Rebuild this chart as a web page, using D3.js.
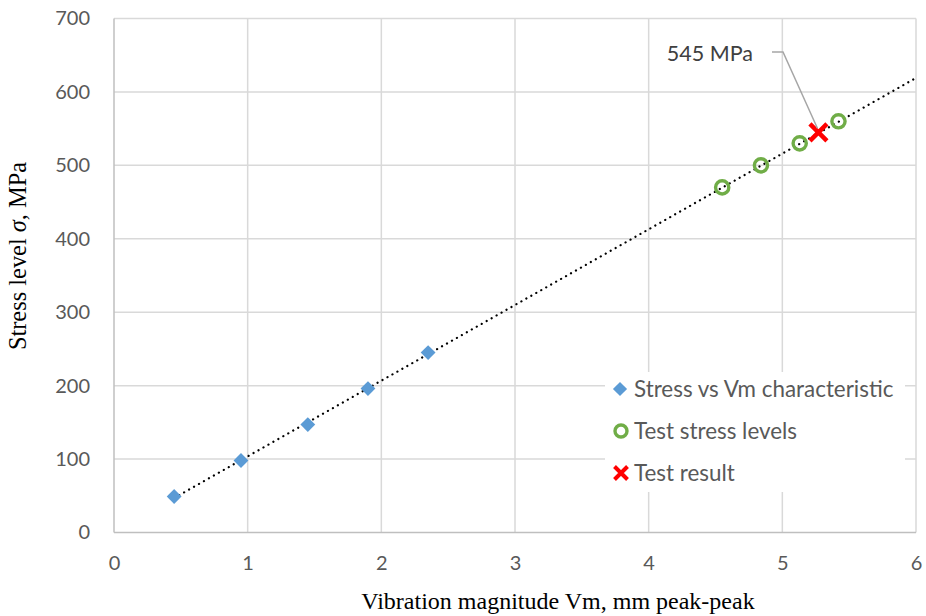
<!DOCTYPE html>
<html>
  <head>
    <meta charset="utf-8">
    <title>Stress level vs vibration magnitude</title>
    <style media="screen">
      body { margin: 0; background-color: #ffffff; }
      g.tick text { font: 20px Lato; fill: #595959; }
      text.legendLabel { font: 22.4px Lato; fill: #595959; }
      text.xTitle { font: 24px "Liberation Serif"; fill: #000; }
      text.yTitle { font: 24.4px "Liberation Serif"; fill: #000; }
      text.callout { font: 21.5px Lato; fill: #404040; }
      path.domain { display: none; }
    </style>
  </head>
  <body>
    <svg id="svg1" width="926" height="616"></svg>

    <script type="text/javascript" src="https://cdnjs.cloudflare.com/ajax/libs/d3/7.8.5/d3.min.js"></script>
    <script type="text/javascript">
      // Series
      var charVm = [0.45, 0.95, 1.45, 1.9, 2.35];
      var charStress = [49, 98, 147, 196, 245];
      var testVm = [4.55, 4.84, 5.13, 5.42];
      var testStress = [470, 500, 530, 560];
      var resultVm = [5.27];
      var resultStress = [545];
      var xTicks = [0, 1, 2, 3, 4, 5, 6];
      var yTicks = [0, 100, 200, 300, 400, 500, 600, 700];

      var svg = d3.select("#svg1");
      var margin = {top: 18.5, right: 10, bottom: 83.5, left: 114};
      var width = 916 - margin.left;
      var height = 532.5 - margin.top;
      var g = svg.append("g").attr("transform", "translate(" + margin.left + "," + margin.top + ")");

      var x = d3.scaleLinear().domain([0, 6]).range([0, width]);
      var y = d3.scaleLinear().domain([0, 700]).range([height, 0]);

      // Gridlines
      g.append("g").selectAll("line")
        .data(yTicks.slice(1))
        .enter().append("line")
        .attr("x1", 0).attr("x2", width)
        .attr("y1", function(d) { return y(d); })
        .attr("y2", function(d) { return y(d); })
        .attr("stroke", "#d9d9d9").attr("stroke-width", 1.5);

      g.append("g").selectAll("line")
        .data(xTicks.slice(1))
        .enter().append("line")
        .attr("y1", 0).attr("y2", height)
        .attr("x1", function(d) { return x(d); })
        .attr("x2", function(d) { return x(d); })
        .attr("stroke", "#d9d9d9").attr("stroke-width", 1.5);

      // Axis lines
      g.append("line").attr("x1", 0).attr("x2", width).attr("y1", height).attr("y2", height)
        .attr("stroke", "#bfbfbf").attr("stroke-width", 1.5);
      g.append("line").attr("x1", 0).attr("x2", 0).attr("y1", 0).attr("y2", height)
        .attr("stroke", "#bfbfbf").attr("stroke-width", 1.5);

      // Tick labels
      g.append("g")
        .attr("transform", "translate(0," + height + ")")
        .call(d3.axisBottom(x).tickValues(xTicks).tickSize(0).tickPadding(23).tickFormat(d3.format("d")));

      g.append("g")
        .call(d3.axisLeft(y).tickValues(yTicks).tickSize(0).tickPadding(24).tickFormat(d3.format("d")));

      // Linear trendline fitted to the characteristic points
      var n = charVm.length;
      var mx = d3.mean(charVm), my = d3.mean(charStress);
      var sxy = 0, sxx = 0;
      for (var i = 0; i < n; i++) {
        sxy += (charVm[i] - mx) * (charStress[i] - my);
        sxx += (charVm[i] - mx) * (charVm[i] - mx);
      }
      var slope = sxy / sxx;
      var icpt = my - slope * mx;
      var trendX = [charVm[0], 6];

      g.append("path")
        .datum(trendX)
        .attr("d", d3.line()
          .x(function(d) { return x(d); })
          .y(function(d) { return y(icpt + slope * d); }))
        .attr("fill", "none")
        .attr("stroke", "#000")
        .attr("stroke-width", 2.2)
        .attr("stroke-linecap", "round")
        .attr("stroke-dasharray", "0.1,5.6");

      // Diamonds
      var diamond = d3.symbol().type(d3.symbolSquare).size(110);
      g.selectAll("path.char")
        .data(charVm)
        .enter().append("path")
        .classed("char", true)
        .attr("d", diamond)
        .attr("transform", function(d, i) { return "translate(" + x(d) + "," + y(charStress[i]) + ") rotate(45)"; })
        .attr("fill", "#5b9bd5");

      // Test stress level circles
      g.selectAll("circle.test")
        .data(testVm)
        .enter().append("circle")
        .classed("test", true)
        .attr("cx", function(d) { return x(d); })
        .attr("cy", function(d, i) { return y(testStress[i]); })
        .attr("r", 6.6)
        .attr("fill", "none")
        .attr("stroke", "#70ad47")
        .attr("stroke-width", 3.4);

      // Test result cross
      function cross(sel, cx, cy, s, w) {
        sel.append("path")
          .attr("d", "M" + (cx - s) + "," + (cy - s) + "L" + (cx + s) + "," + (cy + s) +
                     "M" + (cx - s) + "," + (cy + s) + "L" + (cx + s) + "," + (cy - s))
          .attr("stroke", "#ff0000")
          .attr("stroke-width", w)
          .attr("fill", "none");
      }
      resultVm.forEach(function(d, i) {
        cross(g, x(d), y(resultStress[i]), 8.5, 4.5);
      });

      // Callout
      var rx = x(resultVm[0]), ry = y(resultStress[0]);
      g.append("path")
        .attr("d", "M" + (772 - margin.left) + "," + (52 - margin.top) + "H" + (783 - margin.left) + "L" + (rx - 1) + "," + (ry - 4))
        .attr("fill", "none")
        .attr("stroke", "#a6a6a6")
        .attr("stroke-width", 1.5);
      g.append("text")
        .classed("callout", true)
        .attr("x", 753 - margin.left)
        .attr("y", 53 - margin.top)
        .attr("dy", "0.35em")
        .attr("text-anchor", "end")
        .text(resultStress[0] + " MPa");

      // Legend
      var legend = svg.append("g").attr("transform", "translate(605,372)");
      legend.append("rect").attr("width", 300).attr("height", 120).attr("fill", "#fff");

      var rows = ["Stress vs Vm characteristic", "Test stress levels", "Test result"];
      rows.forEach(function(label, i) {
        var ly = 17 + i * 42;
        if (i === 0) {
          legend.append("path").attr("d", d3.symbol().type(d3.symbolSquare).size(100))
            .attr("transform", "translate(15," + ly + ") rotate(45)")
            .attr("fill", "#5b9bd5");
        } else if (i === 1) {
          legend.append("circle").attr("cx", 16).attr("cy", ly).attr("r", 6)
            .attr("fill", "none").attr("stroke", "#70ad47").attr("stroke-width", 3.4);
        } else {
          cross(legend, 16, ly, 6.5, 4);
        }
        legend.append("text")
          .classed("legendLabel", true)
          .attr("x", 29)
          .attr("y", ly)
          .attr("dy", "0.35em")
          .text(label);
      });

      // Axis titles
      svg.append("text")
        .classed("xTitle", true)
        .attr("text-anchor", "middle")
        .attr("x", 558)
        .attr("y", 609)
        .text("Vibration magnitude Vm, mm peak-peak");

      var yt = svg.append("text")
        .classed("yTitle", true)
        .attr("text-anchor", "middle")
        .attr("transform", "translate(26,256) rotate(-90)");
      yt.append("tspan").text("Stress level ");
      yt.append("tspan").style("font-style", "italic").text("σ");
      yt.append("tspan").text(", MPa");
    </script>
  </body>
</html>
